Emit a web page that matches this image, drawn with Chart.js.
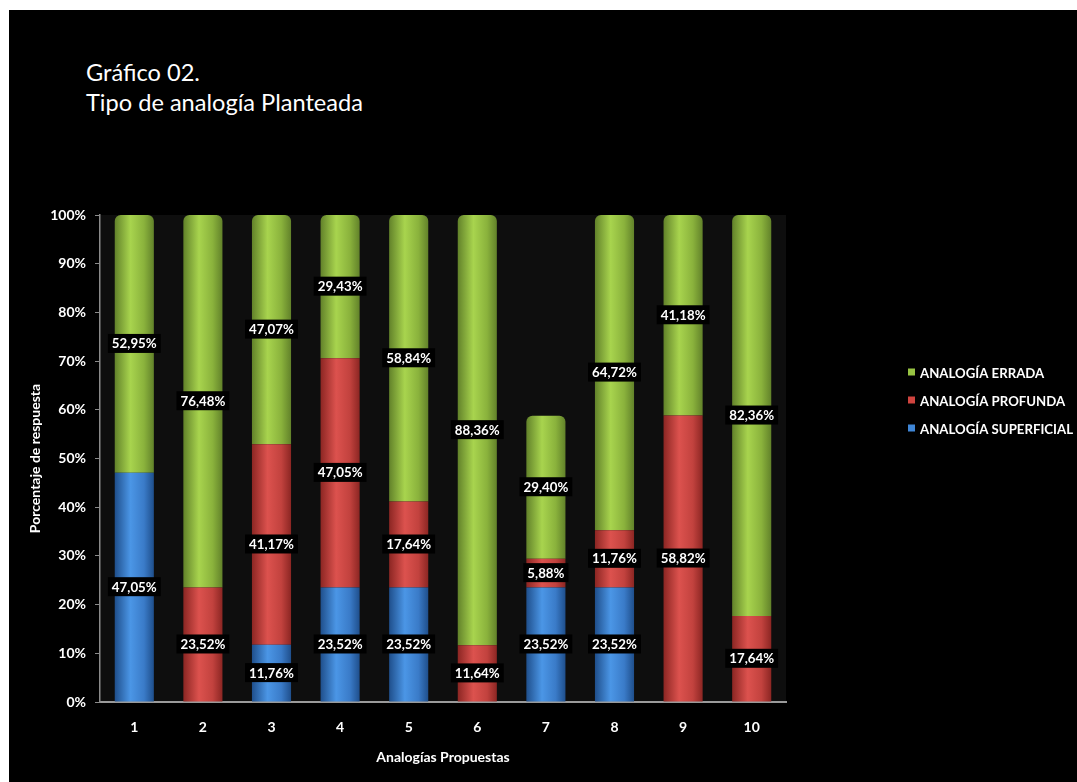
<!DOCTYPE html>
<html>
<head>
<meta charset="utf-8">
<title>Gráfico 02</title>
<script src="https://cdn.jsdelivr.net/npm/chart.js@4.4.0/dist/chart.umd.min.js"></script>
<style>
  html, body { margin: 0; padding: 0; background: #fff; }
  #fondo { position: absolute; left: 9px; top: 10px; right: 0; bottom: 0; background: #000; }
  #titulo {
    position: absolute; left: 86px; top: 57px; color: #fff;
    font-family: Lato, 'Open Sans', sans-serif; font-size: 23.6px; line-height: 30px;
  }
  #grafico { position: absolute; left: 0; top: 0; }
</style>
</head>
<body>
<div id="fondo"></div>
<div id="titulo">Gráfico 02.<br>Tipo de analogía Planteada</div>
<canvas id="grafico" width="1077" height="782"></canvas>
<script>
const categorias = ['1', '2', '3', '4', '5', '6', '7', '8', '9', '10'];
const superficial = [47.05, 0, 11.76, 23.52, 23.52, 0, 23.52, 23.52, 0, 0];
const profunda = [0, 23.52, 41.17, 47.05, 17.64, 11.64, 5.88, 11.76, 58.82, 17.64];
const errada = [52.95, 76.48, 47.07, 29.43, 58.84, 88.36, 29.40, 64.72, 41.18, 82.36];

const FUENTE = 'Lato, "Open Sans", sans-serif';
const ANCHO_BARRA = 0.57;

// sombreado tipo cilindro: borde oscuro, brillo a la izquierda del centro
function cilindro(tonos) {
  return (c) => {
    const chart = c.chart;
    const ejeX = chart.scales.x;
    if (!ejeX || !chart.chartArea || c.dataIndex === undefined) return tonos[1];
    const centro = ejeX.getPixelForValue(c.dataIndex);
    const ancho = (ejeX.width / categorias.length) * ANCHO_BARRA;
    const g = chart.ctx.createLinearGradient(centro - ancho / 2, 0, centro + ancho / 2, 0);
    g.addColorStop(0, tonos[0]);
    g.addColorStop(0.4, tonos[1]);
    g.addColorStop(0.75, tonos[2]);
    g.addColorStop(1, tonos[0]);
    return g;
  };
}

const tonosAzul = ['#1f4f8c', '#4b96e6', '#3a7bc8'];
const tonosRojo = ['#8c2623', '#dc524e', '#c2423e'];
const tonosVerde = ['#62822a', '#a8d44e', '#8ab23c'];

// fondo gris del área de trazado
const fondoArea = {
  id: 'fondoArea',
  beforeDraw(chart) {
    const { ctx, chartArea: a } = chart;
    ctx.save();
    ctx.fillStyle = '#0e0e0e';
    ctx.fillRect(a.left, a.top, a.right - a.left, a.bottom - a.top);
    ctx.restore();
  }
};

// porcentajes en cajas negras en el centro de cada segmento
const etiquetas = {
  id: 'etiquetas',
  afterDatasetsDraw(chart) {
    const ctx = chart.ctx;
    ctx.save();
    ctx.font = 'bold 14px ' + FUENTE;
    ctx.textAlign = 'center';
    ctx.textBaseline = 'middle';
    chart.data.datasets.forEach((ds, i) => {
      chart.getDatasetMeta(i).data.forEach((barra, j) => {
        const v = ds.data[j];
        if (!v) return;
        const { x, y, base } = barra.getProps(['x', 'y', 'base'], true);
        const cy = (y + base) / 2;
        const texto = v.toFixed(2).replace('.', ',') + '%';
        const tw = ctx.measureText(texto).width * 0.95;
        const w = tw + 8;
        ctx.fillStyle = '#000';
        ctx.fillRect(x - w / 2, cy - 10, w, 19);
        ctx.fillStyle = '#fff';
        ctx.fillText(texto, x, cy, tw);
      });
    });
    ctx.restore();
  }
};

// leyenda a la derecha del área de trazado
const leyenda = {
  id: 'leyenda',
  afterDraw(chart) {
    const ctx = chart.ctx;
    ctx.save();
    ctx.font = 'bold 14px ' + FUENTE;
    ctx.textAlign = 'left';
    ctx.textBaseline = 'middle';
    const items = chart.data.datasets.slice().reverse();
    const ancho = Math.max(...items.map((d) => ctx.measureText(d.label).width));
    const factor = Math.min(1, 153 / ancho);
    items.forEach((ds, k) => {
      const yc = 372 + k * 28;
      ctx.fillStyle = ds.legendColor;
      ctx.fillRect(908, yc - 3.5, 7, 7);
      ctx.fillStyle = '#fff';
      ctx.fillText(ds.label, 920, yc + 1, ctx.measureText(ds.label).width * factor);
    });
    ctx.restore();
  }
};

const fuenteEje = { family: FUENTE, size: 14, weight: 'bold' };

new Chart(document.getElementById('grafico'), {
  type: 'bar',
  data: {
    labels: categorias,
    datasets: [
      { label: 'ANALOGÍA SUPERFICIAL', data: superficial, backgroundColor: cilindro(tonosAzul), legendColor: '#3f86d6' },
      { label: 'ANALOGÍA PROFUNDA', data: profunda, backgroundColor: cilindro(tonosRojo), legendColor: '#d0443f' },
      { label: 'ANALOGÍA ERRADA', data: errada, backgroundColor: cilindro(tonosVerde), legendColor: '#98c443' }
    ]
  },
  options: {
    responsive: false,
    animation: false,
    layout: { padding: { top: 215, right: 291, left: 0, bottom: 0 } },
    datasets: {
      bar: {
        barPercentage: ANCHO_BARRA,
        categoryPercentage: 1,
        borderRadius: 6,
        borderSkipped: 'start'
      }
    },
    plugins: {
      legend: { display: false },
      tooltip: { enabled: false }
    },
    scales: {
      x: {
        stacked: true,
        grid: { display: false },
        border: { display: true, color: '#9a9a9a', width: 2 },
        ticks: { color: '#fff', font: fuenteEje, padding: 9 },
        title: {
          display: true,
          text: 'Analogías Propuestas',
          color: '#fff',
          font: fuenteEje,
          padding: { top: 0, bottom: 16 }
        },
        afterFit: (s) => { s.height = 80; }
      },
      y: {
        stacked: true,
        min: 0,
        max: 100,
        grid: { drawOnChartArea: false, drawTicks: true, tickLength: 5, color: '#8a8a8a' },
        border: { display: true, color: '#8a8a8a', width: 1.5 },
        ticks: {
          stepSize: 10,
          color: '#fff',
          padding: 9,
          font: fuenteEje,
          callback: (v) => v + '%'
        },
        title: {
          display: true,
          text: 'Porcentaje de respuesta',
          color: '#fff',
          font: fuenteEje,
          padding: { top: 27, bottom: 0 }
        },
        afterFit: (s) => { s.width = 100; }
      }
    }
  },
  plugins: [fondoArea, etiquetas, leyenda]
});
</script>
</body>
</html>
